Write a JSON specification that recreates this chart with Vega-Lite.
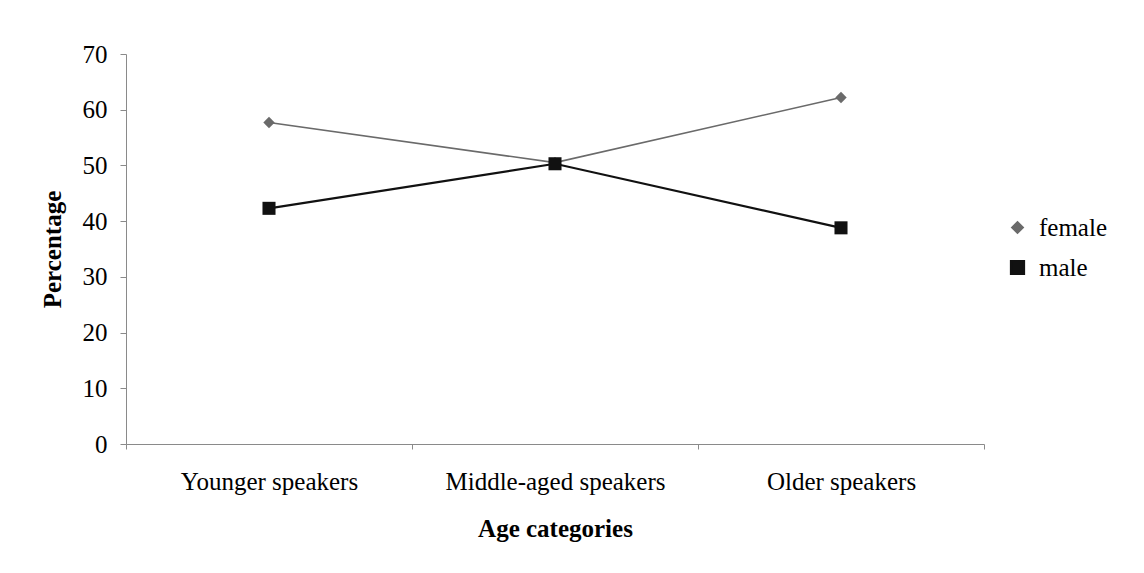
{
  "$schema": "https://vega.github.io/schema/vega-lite/v6.json",
  "autosize": {"type": "none"},
  "padding": {"left": 126, "top": 54, "right": 160, "bottom": 129},
  "width": 858,
  "height": 390,
  "background": "white",
  "config": {
    "view": {"stroke": null},
    "font": "Liberation Serif",
    "axis": {
      "labelFont": "Liberation Serif",
      "titleFont": "Liberation Serif",
      "labelFontSize": 25,
      "titleFontSize": 25,
      "labelColor": "#000",
      "titleColor": "#000",
      "domainColor": "#8a8a8a",
      "tickColor": "#8a8a8a",
      "grid": false,
      "labelLimit": 0
    },
    "legend": {"labelFont": "Liberation Serif", "labelFontSize": 25, "labelColor": "#000"}
  },
  "data": {
    "values": [
      {"age": "Younger speakers", "sex": "female", "pct": 57.7},
      {"age": "Middle-aged speakers", "sex": "female", "pct": 50.5},
      {"age": "Older speakers", "sex": "female", "pct": 62.2},
      {"age": "Younger speakers", "sex": "male", "pct": 42.3},
      {"age": "Middle-aged speakers", "sex": "male", "pct": 50.3},
      {"age": "Older speakers", "sex": "male", "pct": 38.8}
    ]
  },
  "encoding": {
    "x": {
      "field": "age",
      "type": "nominal",
      "sort": ["Younger speakers", "Middle-aged speakers", "Older speakers"],
      "scale": {"paddingInner": 0, "paddingOuter": 0},
      "axis": {
        "title": "Age categories",
        "titleFontWeight": "bold",
        "labelAngle": 0,
        "tickBand": "extent",
        "tickSize": 5,
        "labelPadding": 20,
        "titlePadding": 22,
        "labelLimit": 0
      }
    },
    "y": {
      "field": "pct",
      "type": "quantitative",
      "scale": {"domain": [0, 70]},
      "axis": {
        "title": "Percentage",
        "titleFontWeight": "bold",
        "values": [0, 10, 20, 30, 40, 50, 60, 70],
        "tickSize": 6,
        "labelPadding": 13,
        "titlePadding": 17
      }
    },
    "color": {
      "field": "sex",
      "type": "nominal",
      "scale": {"domain": ["female", "male"], "range": ["#6a6a6a", "#111111"]},
      "legend": {
        "title": null,
        "orient": "none",
        "legendX": 879,
        "legendY": 161,
        "labelOffset": 9,
        "rowPadding": 14,
        "symbolStrokeWidth": 1.6
      }
    }
  },
  "layer": [
    {
      "mark": {"type": "line"},
      "encoding": {
        "strokeWidth": {
          "field": "sex",
          "type": "nominal",
          "scale": {"domain": ["female", "male"], "range": [1.6, 2.2]},
          "legend": null
        }
      }
    },
    {
      "mark": {"type": "point", "filled": true, "opacity": 1},
      "encoding": {
        "shape": {
          "field": "sex",
          "type": "nominal",
          "scale": {"domain": ["female", "male"], "range": ["diamond", "square"]},
          "legend": null
        },
        "size": {
          "field": "sex",
          "type": "nominal",
          "scale": {"domain": ["female", "male"], "range": [130, 170]},
          "legend": null
        }
      }
    }
  ]
}
